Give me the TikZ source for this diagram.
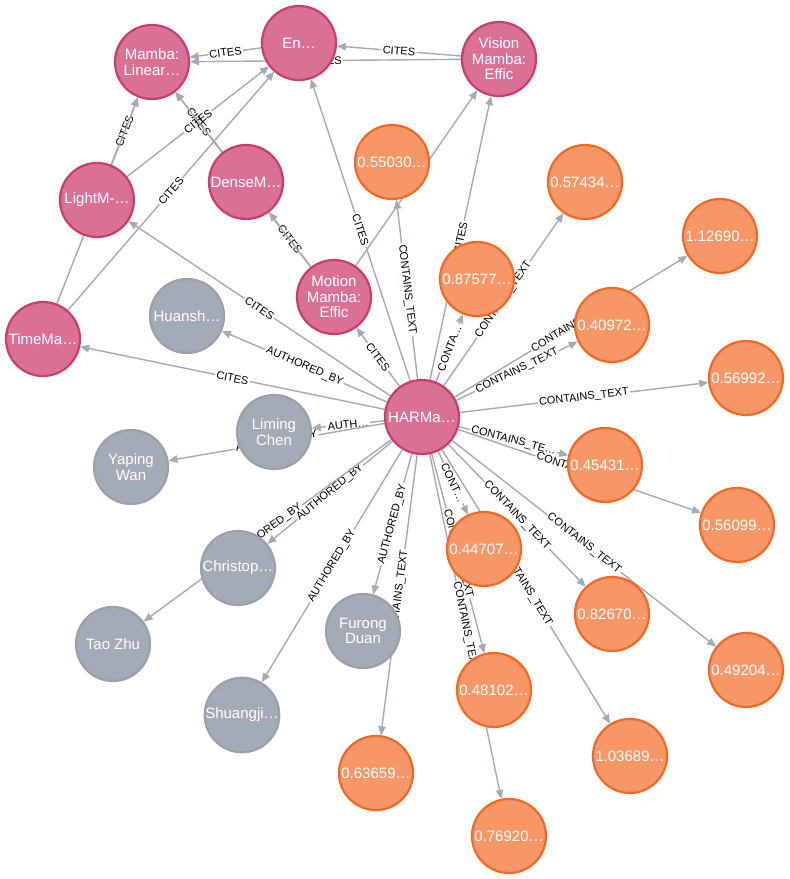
\documentclass[tikz,border=0pt]{standalone}
\usepackage{fontspec}
\setmainfont{Liberation Sans}
\usetikzlibrary{arrows.meta}
\definecolor{pinkf}{HTML}{DA7194}
\definecolor{pinkd}{HTML}{CC3C6C}
\definecolor{orf}{HTML}{F79767}
\definecolor{ord}{HTML}{F36924}
\definecolor{grf}{HTML}{A5ABB6}
\definecolor{grd}{HTML}{9AA1AC}
\definecolor{edgec}{HTML}{A5ABB6}
\pgfdeclarelayer{bg}
\pgfsetlayers{bg,main}
\newcommand\rel[3]{%
  \path (#1) -- (#2) node[midway, sloped, lab] (L-#1-#2) {#3};
  \draw[edgeline] (#1) -- (L-#1-#2);
  \draw[edgeline, -{Triangle[length=9pt,width=7.5pt]}] (L-#1-#2) -- (#2);
}
\begin{document}
\begin{tikzpicture}[x=1pt, y=-1pt,
  nd/.style={circle, minimum size=74pt, inner sep=0pt, line width=2.2pt, text=white,
    font=\fontsize{15}{15.5}\selectfont, align=center, outer sep=1pt},
  pk/.style={nd, fill=pinkf, draw=pinkd},
  og/.style={nd, fill=orf, draw=ord},
  gy/.style={nd, fill=grf, draw=grd},
  lab/.style={font=\fontsize{11}{11}\selectfont, text=black, inner sep=1.5pt, outer sep=0pt},
  edgeline/.style={draw=edgec, line width=1.4pt}]
\useasboundingbox (0,0) rectangle (790,879);

% paper nodes
\node[pk] (mamba)  at (152,62)  {Mamba:\\Linear…};
\node[pk] (en)     at (299,43)  {En…};
\node[pk] (vision) at (499,59)  {Vision\\Mamba:\\Effic};
\node[pk] (light)  at (97,200)  {LightM-…};
\node[pk] (dense)  at (246,182) {DenseM…};
\node[pk] (motion) at (334,297) {Motion\\Mamba:\\Effic};
\node[pk] (time)   at (43,339)  {TimeMa…};
\node[pk] (har)    at (422,417) {HARMa…};

% author nodes
\node[gy] (huan)   at (187,316) {Huansh…};
\node[gy] (liming) at (274,432) {Liming\\Chen};
\node[gy] (yaping) at (131,467) {Yaping\\Wan};
\node[gy] (chris)  at (238,568) {Christop…};
\node[gy] (tao)    at (113,644) {Tao Zhu};
\node[gy] (furong) at (363,631) {Furong\\Duan};
\node[gy] (shuang) at (242,715) {Shuangji…};

% text nodes
\node[og] (t1)  at (392,162) {0.55030…};
\node[og] (t2)  at (585,182) {0.57434…};
\node[og] (t3)  at (720,236) {1.12690…};
\node[og] (t4)  at (477,279) {0.87577…};
\node[og] (t5)  at (612,325) {0.40972…};
\node[og] (t6)  at (746,378) {0.56992…};
\node[og] (t7)  at (605,465) {0.45431…};
\node[og] (t8)  at (737,525) {0.56099…};
\node[og] (t9)  at (484,549) {0.44707…};
\node[og] (t10) at (612,614) {0.82670…};
\node[og] (t11) at (746,670) {0.49204…};
\node[og] (t12) at (494,690) {0.48102…};
\node[og] (t13) at (630,756) {1.03689…};
\node[og] (t14) at (376,773) {0.63659…};
\node[og] (t15) at (509,836) {0.76920…};

\begin{pgfonlayer}{bg}
\fill[white] (0,0) rectangle (790,879);
\rel{en}{mamba}{CITES}
\rel{vision}{en}{CITES}
\rel{vision}{mamba}{CITES}
\rel{light}{mamba}{CITES}
\rel{light}{en}{CITES}
\rel{time}{mamba}{CITES}
\rel{time}{en}{CITES}
\rel{dense}{mamba}{CITES}
\rel{motion}{dense}{CITES}
\rel{motion}{mamba}{CITES}
\rel{motion}{vision}{CITES}
\rel{har}{en}{CITES}
\rel{har}{vision}{CITES}
\rel{har}{motion}{CITES}
\rel{har}{light}{CITES}
\rel{har}{time}{CITES}
\rel{har}{huan}{AUTHORED\_BY}
\rel{har}{liming}{AUTH…}
\rel{har}{yaping}{AUTHORED\_BY}
\rel{har}{chris}{AUTHORED\_BY}
\rel{har}{tao}{AUTHORED\_BY}
\rel{har}{furong}{AUTHORED\_BY}
\rel{har}{shuang}{AUTHORED\_BY}
\rel{har}{t1}{CONTAINS\_TEXT}
\rel{har}{t2}{CONTAINS\_TEXT}
\rel{har}{t3}{CONTAINS\_TEXT}
\rel{har}{t4}{CONTA…}
\rel{har}{t5}{CONTAINS\_TEXT}
\rel{har}{t6}{CONTAINS\_TEXT}
\rel{har}{t7}{CONTAINS\_TE…}
\rel{har}{t8}{CONTAINS\_TEXT}
\rel{har}{t9}{CONT…}
\rel{har}{t10}{CONTAINS\_TEXT}
\rel{har}{t11}{CONTAINS\_TEXT}
\rel{har}{t12}{CONTAINS\_TEXT}
\rel{har}{t13}{CONTAINS\_TEXT}
\rel{har}{t14}{CONTAINS\_TEXT}
\rel{har}{t15}{CONTAINS\_TEXT}
\end{pgfonlayer}
\end{tikzpicture}
\end{document}
